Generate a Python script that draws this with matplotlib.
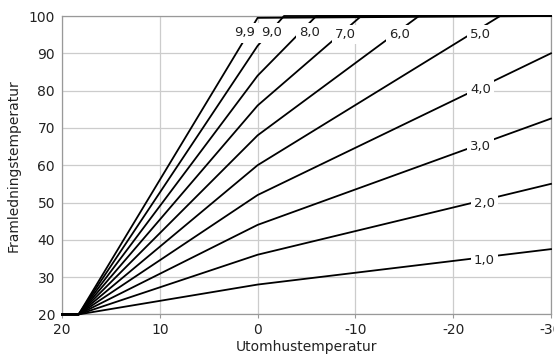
import matplotlib
matplotlib.use("Agg")
import matplotlib.pyplot as plt

plt.rcParams['font.family'] = ['DejaVu Sans']

# Curve labels (heating curve number)
curve_labels = ["1,0", "2,0", "3,0", "4,0", "5,0", "6,0", "7,0", "8,0", "9,0", "9,9"]

# Breakpoints: outdoor temperature -> supply temperature
curve_x = [
    [20, 18.3, 0, -30],
    [20, 18.3, 0, -30],
    [20, 18.3, 0, -30],
    [20, 18.3, 0, -30],
    [20, 18.3, 0, -24.8, -30],
    [20, 18.3, 0, -16.5, -30],
    [20, 18.3, 0, -10.6, -30],
    [20, 18.3, 0, -6.0, -30],
    [20, 18.3, 0, -2.7, -30],
    [20, 18.3, 0, -30],
]
curve_y = [
    [20, 20, 28, 37.5],
    [20, 20, 36, 55],
    [20, 20, 44, 72.5],
    [20, 20, 52, 90],
    [20, 20, 60, 100, 100],
    [20, 20, 68, 100, 100],
    [20, 20, 76, 100, 100],
    [20, 20, 84, 100, 100],
    [20, 20, 92, 100, 100],
    [20, 20, 99.5, 100],
]
# Inline label positions
label_x = [-23.2, -23.2, -22.8, -22.8, -22.8, -14.5, -9.0, -5.3, -1.4, 1.3]
label_y = [34.4, 49.8, 65.0, 80.2, 95.0, 95.0, 95.0, 95.6, 95.5, 95.5]

x_ticks = [20, 10, 0, -10, -20, -30]
y_ticks = [20, 30, 40, 50, 60, 70, 80, 90, 100]
x_title = "Utomhustemperatur"
y_title = "Framledningstemperatur"

fig = plt.figure(figsize=(5.54, 3.56), dpi=100)
ax = fig.add_axes([62 / 554, 1 - 314.4 / 356, (551 - 62) / 554, (314.4 - 16) / 356])

for xs, ys in zip(curve_x, curve_y):
    ax.plot(xs, ys, color="black", lw=1.3, solid_joinstyle="round", zorder=3, clip_on=False)

for lab, lx, ly in zip(curve_labels, label_x, label_y):
    ax.text(lx, ly, lab, ha="center", va="center", fontsize=9.5, color="#222222", zorder=5,
            bbox=dict(boxstyle="square,pad=0.25", fc="white", ec="none"))

ax.set_xlim(20, -30)
ax.set_ylim(20, 100)
ax.set_xticks(x_ticks)
ax.set_yticks(y_ticks)
ax.set_xticklabels([str(t) for t in x_ticks])
ax.grid(True, color="#cccccc", lw=0.9, zorder=0)
for s in ax.spines.values():
    s.set_color("#999999")
    s.set_linewidth(0.9)
ax.tick_params(axis="x", length=3, color="#999999", labelsize=10, labelcolor="#222222", pad=3)
ax.tick_params(axis="y", length=0, labelsize=10, labelcolor="#222222", pad=5)
ax.set_xlabel(x_title, fontsize=10, color="#222222", labelpad=2)
ax.set_ylabel(y_title, fontsize=10, color="#222222", labelpad=6)

fig.savefig("out.png", dpi=100)
